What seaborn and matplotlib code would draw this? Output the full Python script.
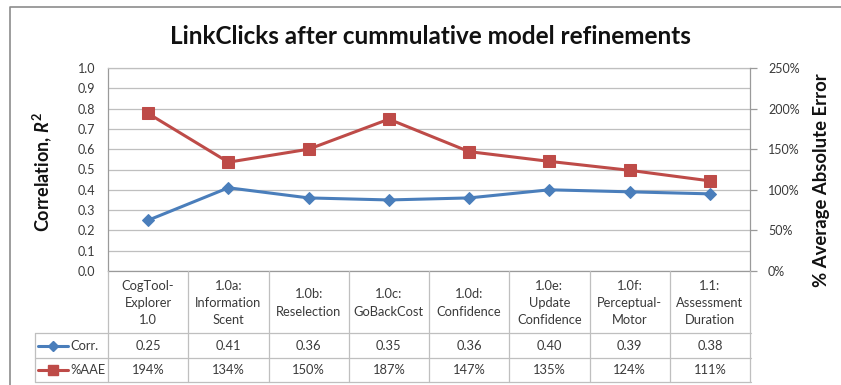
import matplotlib
matplotlib.use("Agg")
import matplotlib.pyplot as plt
from matplotlib.lines import Line2D
from matplotlib.ticker import FixedLocator, FuncFormatter
import seaborn as sns
import pandas as pd

# --- data -------------------------------------------------------------
categories = [
    "CogTool-\nExplorer\n1.0",
    "1.0a:\nInformation\nScent",
    "1.0b:\nReselection",
    "1.0c:\nGoBackCost",
    "1.0d:\nConfidence",
    "1.0e:\nUpdate\nConfidence",
    "1.0f:\nPerceptual-\nMotor",
    "1.1:\nAssessment\nDuration",
]
corr = [0.25, 0.41, 0.36, 0.35, 0.36, 0.40, 0.39, 0.38]
aae_pct = [194, 134, 150, 187, 147, 135, 124, 111]
corr_labels = ["0.25", "0.41", "0.36", "0.35", "0.36", "0.40", "0.39", "0.38"]
aae_labels = ["194%", "134%", "150%", "187%", "147%", "135%", "124%", "111%"]
series_names = ["Corr.", "%AAE"]

# --- style ------------------------------------------------------------
sns.set_theme(style="white")
plt.rcParams["font.family"] = ["Lato", "DejaVu Sans"]
plt.rcParams["mathtext.fontset"] = "custom"
plt.rcParams["mathtext.rm"] = "Lato:bold"
plt.rcParams["mathtext.it"] = "Lato:bold:italic"

BLUE = "#4A7EBB"
RED = "#BE4B48"
GRID = "#BFBFBF"
AXIS = "#9A9A9A"
TXT = "#3A3A3A"
TABFS = 9.3

W, H = 841, 385
fig = plt.figure(figsize=(W / 100, H / 100), dpi=100)
fig.patch.set_facecolor("white")


def fx(px):
    return px / W


def fy(py):
    return 1 - py / H


# plot area (pixels): x 108..750, y 68..271
L, R, T, B = 108, 750, 68, 271
ax = fig.add_axes([fx(L), fy(B), fx(R - L), (B - T) / H])

df = pd.DataFrame({"pos": range(len(categories)), "corr": corr, "aae": aae_pct})

sns.lineplot(data=df, x="pos", y="corr", ax=ax, color=BLUE, linewidth=2.2,
             marker="D", markersize=6.5, markeredgecolor=BLUE,
             markerfacecolor=BLUE, zorder=4)
ax.set_xlim(-0.5, len(categories) - 0.5)
ax.set_ylim(0, 1.0)
ax.yaxis.set_major_locator(FixedLocator([i / 10 for i in range(11)]))
ax.yaxis.set_major_formatter(FuncFormatter(lambda v, p: f"{v:.1f}"))
ax.set_xticks([])
ax.set_xlabel("")
ax.set_ylabel("")
ax.grid(axis="y", color=GRID, linewidth=0.9)
ax.set_axisbelow(True)
ax.tick_params(axis="y", length=0, pad=9, labelsize=9, labelcolor=TXT)
for side in ["left", "bottom", "top", "right"]:
    ax.spines[side].set_color(AXIS if side in ("left", "bottom") else GRID)
    ax.spines[side].set_linewidth(0.9)
ax.spines["right"].set_visible(False)

ax2 = ax.twinx()
sns.lineplot(data=df, x="pos", y="aae", ax=ax2, color=RED, linewidth=2.2,
             marker="s", markersize=8, markeredgecolor=RED,
             markerfacecolor=RED, zorder=4)
ax2.set_ylim(0, 250)
ax2.yaxis.set_major_locator(FixedLocator([0, 50, 100, 150, 200, 250]))
ax2.yaxis.set_major_formatter(FuncFormatter(lambda v, p: f"{v:.0f}%"))
ax2.set_ylabel("")
ax2.tick_params(axis="y", length=5, width=0.9, color=AXIS, pad=8,
                labelsize=9, labelcolor=TXT)
for side in ["left", "bottom", "top"]:
    ax2.spines[side].set_visible(False)
ax2.spines["right"].set_color(AXIS)
ax2.spines["right"].set_linewidth(0.9)

# --- titles -----------------------------------------------------------
fig.text(fx(430), fy(44), "LinkClicks after cummulative model refinements",
         ha="center", va="baseline", fontsize=17.5, fontweight="bold",
         color="#111111")
fig.text(fx(42), fy(172), r"Correlation, $R^2$", rotation=90,
         ha="center", va="center", fontsize=13, fontweight="bold",
         color="#111111")
fig.text(fx(822), fy(180), "% Average Absolute Error", rotation=90,
         ha="center", va="center", fontsize=13.3, fontweight="bold",
         color="#111111")

# --- data table -------------------------------------------------------
TL, TB = 35, 382
ROW1, ROW2 = 333, 358
unit = (R - L) / len(categories)
tab = fig.add_axes([fx(TL), fy(TB), fx(R + 1 - TL), (TB - B) / H])
tab.set_xlim(TL, R + 1)
tab.set_ylim(TB, B)
tab.axis("off")

lw = 0.9
# horizontal rules
tab.plot([TL, R + 1], [ROW1, ROW1], color=GRID, lw=lw, clip_on=False)
tab.plot([TL, R + 1], [ROW2, ROW2], color=GRID, lw=lw, clip_on=False)
tab.plot([TL, R + 1], [TB, TB], color=GRID, lw=lw, clip_on=False)
# vertical rules
tab.plot([TL, TL], [ROW1, TB], color=GRID, lw=lw, clip_on=False)
for k in range(len(categories) + 1):
    x = L + k * unit
    tab.plot([x, x], [B, TB], color=GRID, lw=lw, clip_on=False)

for k, lab in enumerate(categories):
    cx = L + (k + 0.5) * unit
    tab.text(cx, (B + ROW1) / 2 + 1, lab, ha="center", va="center",
             fontsize=TABFS, color=TXT, linespacing=1.5)
    tab.text(cx, (ROW1 + ROW2) / 2, corr_labels[k], ha="center",
             va="center", fontsize=TABFS, color=TXT)
    tab.text(cx, (ROW2 + TB) / 2, aae_labels[k], ha="center",
             va="center", fontsize=TABFS, color=TXT)

# legend keys inside the table
for (yc, col, mk, ms), name in zip(
        [((ROW1 + ROW2) / 2, BLUE, "D", 5), ((ROW2 + TB) / 2, RED, "s", 7)],
        series_names):
    tab.add_line(Line2D([38, 68], [yc, yc], color=col, lw=2.2))
    tab.plot([53], [yc], marker=mk, ms=ms, color=col, mec=col)
    tab.text(70, yc, name, ha="left", va="center", fontsize=TABFS, color=TXT)

# chart frame
frame = fig.add_axes([0, 0, 1, 1], facecolor="none")
frame.set_xlim(0, W)
frame.set_ylim(H, 0)
frame.axis("off")
frame.plot([10, 10, W], [H, 7, 7], color="#8C8C8C", lw=1.2)

fig.savefig("out.png", dpi=100)
